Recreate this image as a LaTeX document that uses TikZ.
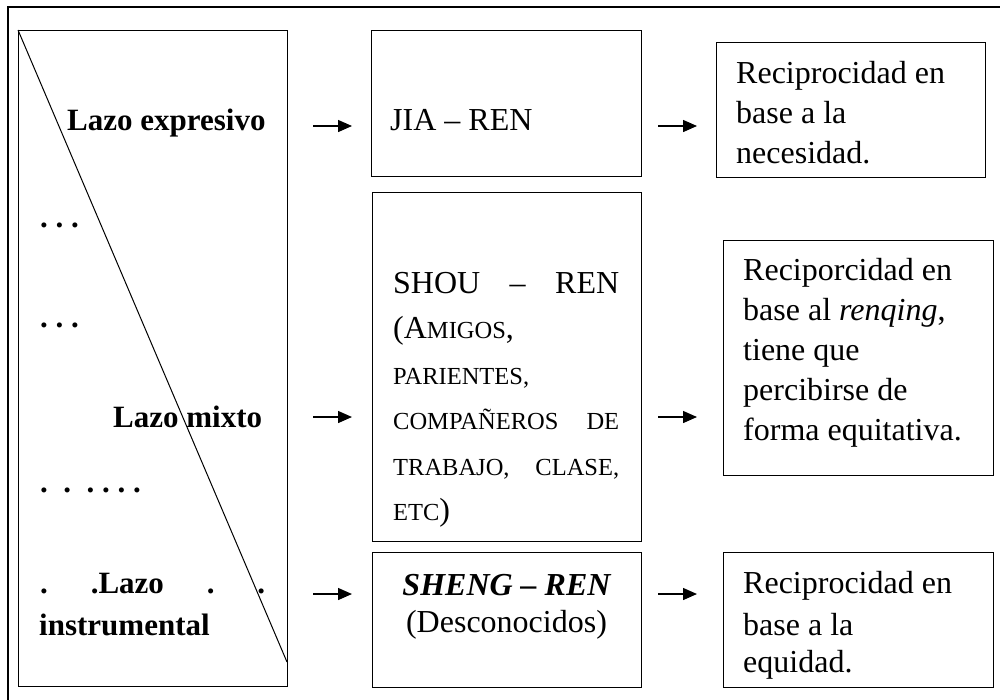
\documentclass[tikz,border=0pt]{standalone}
\usepackage{fontspec}
\setmainfont{Liberation Serif}
\usetikzlibrary{arrows.meta}
\newcommand\fsc[1]{{\fontsize{24.5}{40}\selectfont #1}}
\begin{document}
\begin{tikzpicture}[x=1pt,y=-1pt,
  frame/.style={draw=black,line width=1.4pt},
  boxx/.style={draw=black,line width=1.3pt,inner sep=0pt,anchor=north west},
  txt/.style={inner sep=0pt,anchor=base west,font=\fontsize{32}{40}\selectfont},
  btxt/.style={txt,font=\fontsize{31}{40}\selectfont\bfseries},
  ctxt/.style={inner sep=0pt,anchor=base,font=\fontsize{32}{40}\selectfont},
  arr/.style={line width=1.4pt,-{Triangle[length=14pt,width=12pt]}}]
\useasboundingbox (0,0) rectangle (1000,699);
% outer frame (cropped)
\draw[frame] (8,705) -- (8,7) -- (1005,7);
% left box
\node[boxx,minimum width=269pt,minimum height=656pt] (left) at (18,30) {};
\coordinate (diagend) at (287,662);
\draw[line width=1pt] (left.north west) -- (diagend);
\node[btxt] (lexp) at (67,130) {Lazo expresivo};
\node[btxt] (d1) at (40,227) {.\ .\ .};
\node[btxt] (d2) at (40,327) {.\ .\ .};
\node[btxt] (lmix) at (113,427) {Lazo mixto};
\node[btxt] (d3) at (40,492) {.~\ .~\ .\ .\ .\ .};
\node[btxt] (linst1) at (40,593) {\makebox[225pt][s]{.\hfill .Lazo\hfill .\hfill .}};
\node[btxt] (linst2) at (39,635) {instrumental};
% middle column
\node[boxx,minimum width=270pt,minimum height=146pt] (jia) at (371,30) {};
\node[txt] (jiat) at (390,130) {JIA – REN};
\node[boxx,minimum width=269pt,minimum height=349pt] (shou) at (372,192) {};
\node[txt] (s1) at (393,293) {\makebox[226pt][s]{SHOU\hfill–\hfill REN}};
\node[txt] (s2) at (393,338) {(A\fsc{MIGOS},};
\node[txt] (s3) at (393,384) {\fsc{PARIENTES,}};
\node[txt] (s4) at (393,429) {\makebox[226pt][s]{\fsc{COMPAÑEROS}\hfill\fsc{DE}}};
\node[txt] (s5) at (393,475) {\makebox[226pt][s]{\fsc{TRABAJO,}\hfill\fsc{CLASE,}}};
\node[txt] (s6) at (393,520) {\fsc{ETC})};
\node[boxx,minimum width=269pt,minimum height=135pt] (sheng) at (372,552) {};
\node[ctxt,font=\fontsize{32}{40}\selectfont\bfseries\itshape] (sh1) at (506.5,595) {SHENG – REN};
\node[ctxt] (sh2) at (506.5,632) {(Desconocidos)};
% right column
\node[boxx,minimum width=269pt,minimum height=135pt] (r1) at (716,42) {};
\node[txt] (r1a) at (736,83) {Reciprocidad en};
\node[txt] (r1b) at (736,123) {base a la};
\node[txt] (r1c) at (736,163) {necesidad.};
\node[boxx,minimum width=270pt,minimum height=235pt] (r2) at (723,240) {};
\node[txt] (r2a) at (743,280) {Reciporcidad en};
\node[txt] (r2b) at (743,320) {base al \textit{renqing},};
\node[txt] (r2c) at (743,360) {tiene que};
\node[txt] (r2d) at (743,400) {percibirse de};
\node[txt] (r2e) at (743,440) {forma equitativa.};
\node[boxx,minimum width=270pt,minimum height=135pt] (r3) at (723,552) {};
\node[txt] (r3a) at (743,593) {Reciprocidad en};
\node[txt] (r3b) at (743,635) {base a la};
\node[txt] (r3c) at (743,672) {equidad.};
% arrows
\coordinate (a1s) at (313,126); \coordinate (a1e) at (352,126);
\coordinate (a2s) at (658,126); \coordinate (a2e) at (697,126);
\coordinate (a3s) at (313,417); \coordinate (a3e) at (352,417);
\coordinate (a4s) at (658,417); \coordinate (a4e) at (697,417);
\coordinate (a5s) at (313,594); \coordinate (a5e) at (352,594);
\coordinate (a6s) at (658,594); \coordinate (a6e) at (697,594);
\draw[arr] (a1s) -- (a1e);
\draw[arr] (a2s) -- (a2e);
\draw[arr] (a3s) -- (a3e);
\draw[arr] (a4s) -- (a4e);
\draw[arr] (a5s) -- (a5e);
\draw[arr] (a6s) -- (a6e);
\end{tikzpicture}
\end{document}
